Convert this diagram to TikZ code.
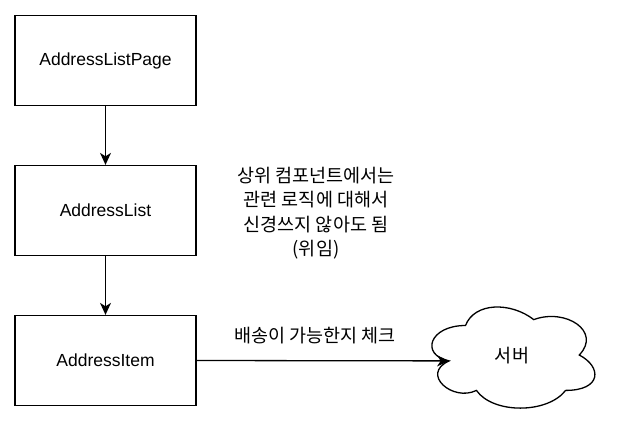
\documentclass[tikz,border=0pt]{standalone}
\usepackage{fontspec}
\setmainfont{Liberation Sans}
\newfontfamily\krfont{Noto Sans CJK KR}
\usetikzlibrary{arrows.meta}
\tikzset{
  box/.style={draw=black, line width=1.3pt, minimum width=181pt, minimum height=90pt, inner sep=0pt, font=\fontsize{17.5}{21}\selectfont},
  conn/.style={line width=1.3pt, -{Stealth[length=12pt,width=11pt,inset=3.5pt]}},
  krtext/.style={font=\krfont\fontsize{18.5}{24.5}\selectfont, align=center, inner sep=0pt}
}
\begin{document}
\begin{tikzpicture}[x=1pt,y=-1pt]
\useasboundingbox (0,0) rectangle (617,431);
\node[box] (page) at (105.5,60.5) {AddressListPage};
\node[box] (list) at (105.5,210.5) {AddressList};
\node[box] (item) at (105.5,360.5) {AddressItem};
\node[krtext] (note) at (316,213) {상위 컴포넌트에서는\\관련 로직에 대해서\\신경쓰지 않아도 됨\\(위임)};
% cloud
\begin{scope}[shift={(420,296)}, x=182pt, y=-118pt]
\draw[line width=1.3pt, fill=white] (0.25,0.25)
  .. controls (0.05,0.25) and (0,0.5) .. (0.16,0.55)
  .. controls (0,0.66) and (0.18,0.9) .. (0.31,0.8)
  .. controls (0.4,1) and (0.7,1) .. (0.8,0.8)
  .. controls (1,0.8) and (1,0.6) .. (0.875,0.5)
  .. controls (1,0.3) and (0.8,0.1) .. (0.625,0.2)
  .. controls (0.5,0.05) and (0.3,0.05) .. (0.25,0.25) -- cycle;
\coordinate (cloudin) at (0.16,0.55);
\end{scope}
\node[krtext] (server) at (512,356) {서버};
\draw[conn] (page) -- (list);
\draw[conn] (list) -- (item);
\draw[conn] (item.east) -- (cloudin) node[krtext, midway, above=16pt, xshift=-8pt] (lbl) {배송이 가능한지 체크};
\end{tikzpicture}
\end{document}
